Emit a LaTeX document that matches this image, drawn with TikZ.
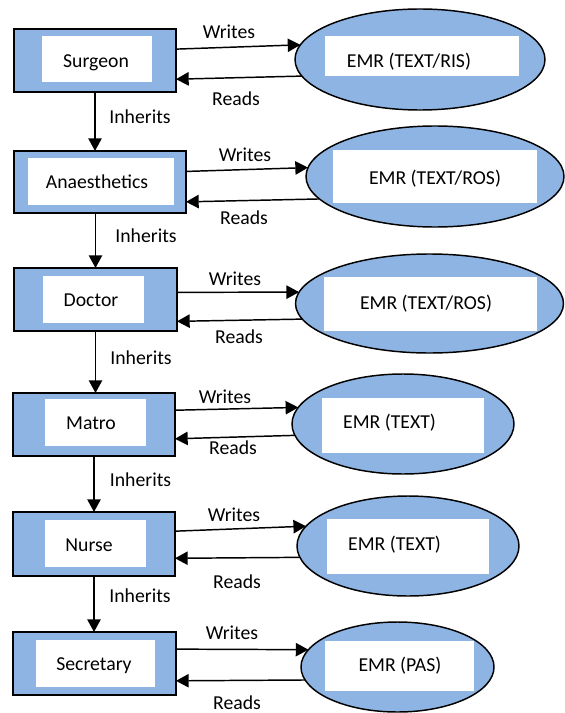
\documentclass[tikz,border=0pt]{standalone}
\usepackage{fontspec}
\setmainfont{Carlito}
\usepackage{tikz}
\usetikzlibrary{shapes.geometric,arrows.meta}
\definecolor{emrblue}{HTML}{8EB4E3}

\begin{document}
\begin{tikzpicture}[x=0.75pt,y=0.75pt,yscale=-1,xscale=1,
    role/.style={draw=black,line width=1.2pt,fill=emrblue,inner sep=0pt,outer sep=0pt},
    whitebox/.style={fill=white,inner sep=0pt,outer sep=0pt},
    emr/.style={ellipse,draw=black,line width=1.1pt,fill=emrblue,inner sep=0pt,outer sep=0pt},
    txt/.style={inner sep=0pt,text height=9.5pt,text depth=0pt,font=\fontsize{14.8}{17}\selectfont},
    flow/.style={line width=1.1pt,-{Triangle[length=9.5pt,width=10pt]}}]
    \useasboundingbox (0,0) rectangle (564,713);

    %Surgeon row
    \node [role,minimum width=121.5pt,minimum height=47.25pt] (surgeon) at (95,60.5) {};
    \node [whitebox,minimum width=82.5pt,minimum height=34.5pt] (surgeonbox) at (97,59) {};
    \node [txt] (surgeontxt) at (96,61) {Surgeon};
    \node [emr,minimum width=187.5pt,minimum height=75.75pt] (emrris) at (420,59.5) {};
    \node [whitebox,minimum width=145.5pt,minimum height=30pt] (emrrisbox) at (422,56) {};
    \node [txt] (emrristxt) at (409,61) {EMR (TEXT/RIS)};
    \draw [flow] (surgeon.8.1) -- (emrris.173.9) ;
    \draw [flow] (emrris.188.5) -- (surgeon.347.1) ;
    \node [txt] (writes1) at (229,32) {Writes};
    \node [txt] (reads1) at (236,99) {Reads};

    %Anaesthetics row
    \node [role,minimum width=129pt,minimum height=46.5pt] (anaes) at (100,182) {};
    \node [whitebox,minimum width=109.5pt,minimum height=35.25pt] (anaesbox) at (101,181.5) {};
    \node [txt] (anaestxt) at (97,182) {Anaesthetics};
    \node [emr,minimum width=193.5pt,minimum height=75.75pt] (emrrosa) at (435,176.5) {};
    \node [whitebox,minimum width=153pt,minimum height=39.75pt] (emrrosabox) at (435,176.5) {};
    \node [txt] (emrrosatxt) at (435,178) {EMR (TEXT/ROS)};
    \draw [flow] (anaes.7.3) -- (emrrosa.176.6) ;
    \draw [flow] (emrrosa.191) -- (anaes.347.5) ;
    \node [txt] (writes2) at (245,155) {Writes};
    \node [txt] (reads2) at (244,218) {Reads};

    %Doctor row
    \node [role,minimum width=122.25pt,minimum height=47.25pt] (doctor) at (95.5,299.5) {};
    \node [whitebox,minimum width=75.75pt,minimum height=35.25pt] (doctorbox) at (93.5,299.5) {};
    \node [txt] (doctortxt) at (91,300) {Doctor};
    \node [emr,minimum width=201pt,minimum height=74.25pt] (emrrosb) at (429.5,303.5) {};
    \node [whitebox,minimum width=159.75pt,minimum height=40.5pt] (emrrosbbox) at (430.5,304) {};
    \node [txt] (emrrosbtxt) at (426,303) {EMR (TEXT/ROS)};
    \draw [flow] (doctor.5.3) -- (emrrosb.175) ;
    \draw [flow] (emrrosb.187.4) -- (doctor.345.2) ;
    \node [txt] (writes3) at (235,279) {Writes};
    \node [txt] (reads3) at (239,337) {Reads};

    %Matro row
    \node [role,minimum width=121.5pt,minimum height=47.25pt] (matro) at (94,424.5) {};
    \node [whitebox,minimum width=75.75pt,minimum height=35.25pt] (matrobox) at (95.5,422.5) {};
    \node [txt] (matrotxt) at (91,423) {Matro};
    \node [emr,minimum width=166.5pt,minimum height=75pt] (emrtexta) at (403,424) {};
    \node [whitebox,minimum width=121.5pt,minimum height=41.25pt] (emrtextabox) at (403,425.5) {};
    \node [txt] (emrtextatxt) at (389.5,422) {EMR (TEXT)};
    \draw [flow] (matro.10.8) -- (emrtexta.171.4) ;
    \draw [flow] (emrtexta.186.6) -- (matro.350.5) ;
    \node [txt] (writes4) at (225,397) {Writes};
    \node [txt] (reads4) at (233,448) {Reads};

    %Nurse row
    \node [role,minimum width=121.5pt,minimum height=48pt] (nurse) at (94,544) {};
    \node [whitebox,minimum width=75.75pt,minimum height=35.25pt] (nursebox) at (95.5,543.5) {};
    \node [txt] (nursetxt) at (89,545) {Nurse};
    \node [emr,minimum width=166.5pt,minimum height=75pt] (emrtextb) at (408,546) {};
    \node [whitebox,minimum width=121.5pt,minimum height=41.25pt] (emrtextbbox) at (408,546.5) {};
    \node [txt] (emrtextbtxt) at (394.5,544) {EMR (TEXT)};
    \draw [flow] (nurse.9.8) -- (emrtextb.169.5) ;
    \draw [flow] (emrtextb.186.4) -- (nurse.350.2) ;
    \node [txt] (writes5) at (234,515) {Writes};
    \node [txt] (reads5) at (237,582) {Reads};

    %Secretary row
    \node [role,minimum width=122.25pt,minimum height=47.25pt] (secretary) at (94.5,663.5) {};
    \node [whitebox,minimum width=89.25pt,minimum height=35.25pt] (secretarybox) at (95.5,663.5) {};
    \node [txt] (secretarytxt) at (94,664) {Secretary};
    \node [emr,minimum width=144.75pt,minimum height=67.5pt] (emrpas) at (397.5,667) {};
    \node [whitebox,minimum width=111.75pt,minimum height=37.5pt] (emrpasbox) at (399.5,666) {};
    \node [txt] (emrpastxt) at (400,665) {EMR (PAS)};
    \draw [flow] (secretary.10.8) -- (emrpas.169.3) ;
    \draw [flow] (emrpas.188) -- (secretary.348.6) ;
    \node [txt] (writes6) at (232,633) {Writes};
    \node [txt] (reads6) at (237,703) {Reads};

    %Inherits arrows
    \draw [flow] (surgeon.south) -- (surgeon.south |- anaes.north) ;
    \draw [flow] (doctor.north |- anaes.south) -- (doctor.north) ;
    \draw [flow] (doctor.south) -- (doctor.south |- matro.north) ;
    \draw [flow] (matro.south) -- (matro.south |- nurse.north) ;
    \draw [flow] (nurse.south) -- (nurse.south |- secretary.north) ;
    \node [txt] (inherits1) at (140,117) {Inherits};
    \node [txt] (inherits2) at (146,236) {Inherits};
    \node [txt] (inherits3) at (141,358) {Inherits};
    \node [txt] (inherits4) at (140.5,480) {Inherits};
    \node [txt] (inherits5) at (140,596) {Inherits};

\end{tikzpicture}
\end{document}
